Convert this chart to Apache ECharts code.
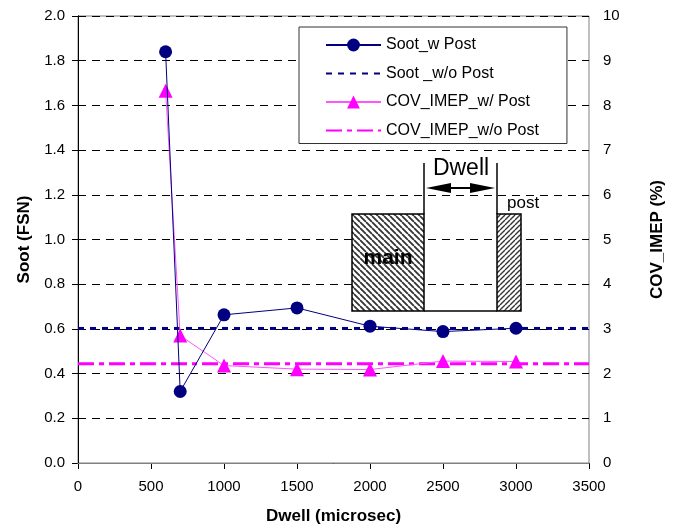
<!DOCTYPE html>
<html>
<head>
<meta charset="utf-8">
<script src="https://cdn.jsdelivr.net/npm/echarts@6/dist/echarts.min.js"></script>
<style>
  html, body { margin: 0; padding: 0; background: #fff; }
  #chart { width: 673px; height: 529px; }
</style>
</head>
<body>
<div id="chart"></div>
<script>
// Dwell time between main and post injection (microseconds)
const dwell = [600, 700, 1000, 1500, 2000, 2500, 3000];
// Soot with post injection (FSN, left axis)
const sootWithPost = [1.84, 0.32, 0.663, 0.694, 0.612, 0.588, 0.603];
// COV of IMEP with post injection (%, right axis)
const covWithPost = [8.33, 2.85, 2.18, 2.10, 2.09, 2.28, 2.27];
// Reference levels without post injection, drawn across the full dwell range
const baselineDwell = [0, 3500];
const sootWithoutPost = [0.602, 0.602];
const covWithoutPost = [2.22, 2.22];

const FONT = "'Liberation Sans', Arial, sans-serif";

function pairs(xs, ys) { return xs.map((x, i) => [x, ys[i]]); }

// Diagonal hatch tiles for the injection-pulse sketch
function hatch(size, dir, width, color) {
  const c = document.createElement('canvas');
  c.width = size; c.height = size;
  const g = c.getContext('2d');
  g.fillStyle = '#fff';
  g.fillRect(0, 0, size, size);
  g.strokeStyle = color;
  g.lineWidth = width;
  g.beginPath();
  for (let k = -size; k <= 2 * size; k += size) {
    if (dir === 'back') { g.moveTo(k, 0); g.lineTo(k + size, size); }
    else { g.moveTo(k, 0); g.lineTo(k - size, size); }
  }
  g.stroke();
  return c;
}
const mainHatch = { image: hatch(6, 'back', 1.8, '#333'), repeat: 'repeat' };
const postHatch = { image: hatch(5, 'fwd', 1.4, '#333'), repeat: 'repeat' };

const chart = echarts.init(document.getElementById('chart'));

const tickLabel = { color: '#000', fontFamily: FONT, fontSize: 15 };
const titleStyle = { color: '#000', fontFamily: FONT, fontSize: 17, fontWeight: 'bold' };
const noMarker = { opacity: 0 };

chart.setOption({
  animation: false,
  backgroundColor: '#fff',
  grid: {
    left: 78, right: 84, top: 16, bottom: 66,
    containLabel: false, outerBoundsMode: 'none',
    show: true, borderColor: '#808080', borderWidth: 1
  },
  legend: {
    orient: 'vertical',
    left: 299, top: 27,
    padding: [10, 28, 5, 26],
    itemWidth: 55, itemHeight: 16, itemGap: 12.5,
    backgroundColor: '#fff',
    borderColor: '#333', borderWidth: 1,
    textStyle: { color: '#000', fontFamily: FONT, fontSize: 16, lineHeight: 16 },
    data: [
      { name: 'Soot_w Post' },
      { name: 'Soot _w/o Post', itemStyle: noMarker },
      { name: 'COV_IMEP_w/ Post' },
      { name: 'COV_IMEP_w/o Post', itemStyle: noMarker }
    ]
  },
  xAxis: [{
    type: 'value', min: 0, max: 3500, interval: 500,
    name: 'Dwell (microsec)', nameLocation: 'middle', nameGap: 45,
    nameTextStyle: titleStyle,
    axisLine: { show: true, lineStyle: { color: '#000', width: 1 } },
    axisTick: { show: true, inside: false, length: 6, lineStyle: { color: '#000' } },
    axisLabel: Object.assign({ margin: 16, formatter: v => String(v) }, tickLabel),
    splitLine: { show: false }
  }, {
    // plain top edge of the plot frame
    type: 'value', position: 'top', min: 0, max: 3500, interval: 500, z: 5,
    axisLine: { show: true, lineStyle: { color: '#808080', width: 1 } },
    axisTick: { show: false }, axisLabel: { show: false }, splitLine: { show: false }
  }],
  yAxis: [{
    type: 'value', min: 0, max: 2, interval: 0.2,
    name: 'Soot (FSN)', nameLocation: 'middle', nameGap: 42, nameRotate: 90,
    nameTextStyle: titleStyle,
    axisLine: { show: true, lineStyle: { color: '#000', width: 1 } },
    axisTick: { show: true, inside: false, length: 6, lineStyle: { color: '#000' } },
    axisLabel: Object.assign({ margin: 13, formatter: v => v.toFixed(1) }, tickLabel),
    splitLine: { show: true, lineStyle: { color: '#000', width: 1, type: [8, 6] } }
  }, {
    type: 'value', min: 0, max: 10, interval: 1, position: 'right',
    name: 'COV_IMEP (%)', nameLocation: 'middle', nameGap: 60, nameRotate: 90,
    nameTextStyle: titleStyle,
    axisLine: { show: true, lineStyle: { color: '#000', width: 1 } },
    axisTick: { show: true, inside: false, length: 5, lineStyle: { color: '#000' } },
    axisLabel: Object.assign({ margin: 14 }, tickLabel),
    splitLine: { show: false }
  }],
  series: [{
    name: 'Soot _w/o Post', type: 'line', xAxisIndex: 0, yAxisIndex: 0,
    data: pairs(baselineDwell, sootWithoutPost), symbol: 'none', z: 2,
    lineStyle: { color: '#000080', width: 3, type: [6, 6] },
    itemStyle: { color: '#000080' }
  }, {
    name: 'COV_IMEP_w/o Post', type: 'line', xAxisIndex: 0, yAxisIndex: 1,
    data: pairs(baselineDwell, covWithoutPost), symbol: 'none', z: 2,
    lineStyle: { color: '#ff00ff', width: 3, type: [16, 5, 5, 5] },
    itemStyle: { color: '#ff00ff' }
  }, {
    name: 'COV_IMEP_w/ Post', type: 'line', xAxisIndex: 0, yAxisIndex: 1,
    data: pairs(dwell, covWithPost), symbol: 'triangle', symbolSize: 14, z: 3,
    lineStyle: { color: '#ff55ff', width: 1 },
    itemStyle: { color: '#ff00ff' }
  }, {
    name: 'Soot_w Post', type: 'line', xAxisIndex: 0, yAxisIndex: 0,
    data: pairs(dwell, sootWithPost), symbol: 'circle', symbolSize: 13, z: 4,
    lineStyle: { color: '#000080', width: 1 },
    itemStyle: { color: '#000080' }
  }],
  graphic: [
    // main and post injection pulses with the dwell between them
    { type: 'rect', z: 20, shape: { x: 352, y: 214, width: 72, height: 97 },
      style: { fill: mainHatch, stroke: '#000', lineWidth: 1.5 } },
    { type: 'rect', z: 20, shape: { x: 497, y: 214, width: 24, height: 97 },
      style: { fill: postHatch, stroke: '#000', lineWidth: 1.5 } },
    { type: 'line', z: 20, shape: { x1: 424, y1: 163, x2: 424, y2: 214 }, style: { stroke: '#000', lineWidth: 1.5 } },
    { type: 'line', z: 20, shape: { x1: 497, y1: 163, x2: 497, y2: 214 }, style: { stroke: '#000', lineWidth: 1.5 } },
    { type: 'line', z: 20, shape: { x1: 424, y1: 311, x2: 497, y2: 311 }, style: { stroke: '#000', lineWidth: 1.5 } },
    { type: 'line', z: 20, shape: { x1: 445, y1: 188, x2: 476, y2: 188 }, style: { stroke: '#000', lineWidth: 2 } },
    { type: 'polygon', z: 20, shape: { points: [[426, 188], [451, 183], [451, 193]] }, style: { fill: '#000' } },
    { type: 'polygon', z: 20, shape: { points: [[495, 188], [470, 183], [470, 193]] }, style: { fill: '#000' } },
    { type: 'text', z: 21, x: 461, y: 169,
      style: { text: 'Dwell', fill: '#000', font: "23px " + FONT, align: 'center', verticalAlign: 'middle' } },
    { type: 'text', z: 21, x: 507, y: 203,
      style: { text: 'post', fill: '#000', font: "17px " + FONT, align: 'left', verticalAlign: 'middle' } },
    { type: 'text', z: 21, x: 388, y: 258,
      style: { text: 'main', fill: '#000', font: "bold 21px " + FONT, align: 'center', verticalAlign: 'middle' } }
  ]
});
</script>
</body>
</html>
